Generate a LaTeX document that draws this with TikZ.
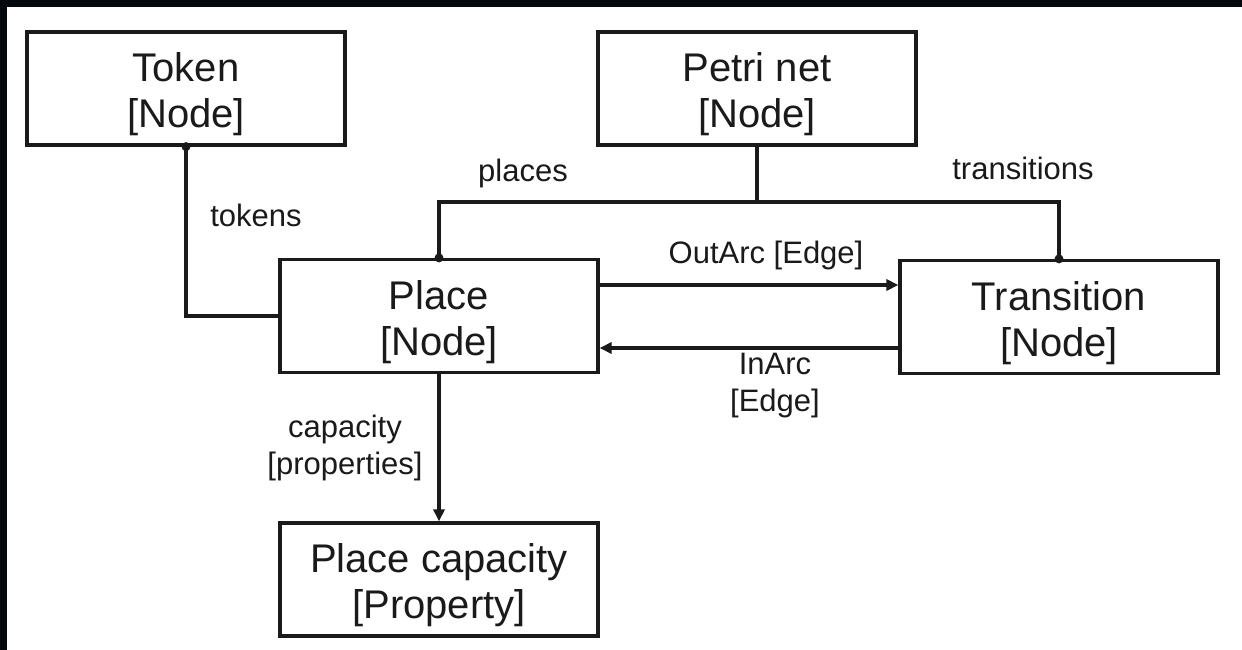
\documentclass[tikz,border=0pt]{standalone}
\usepackage{fontspec}
\setmainfont{Liberation Sans}
\usetikzlibrary{arrows.meta}
\definecolor{frame}{HTML}{05080D}
\definecolor{ink}{HTML}{1A1A1A}
% extra room above the first line of a box title
\newcommand{\headroom}{\rule{0pt}{41pt}}
\begin{document}
\begin{tikzpicture}[x=1pt,y=-1pt,
  entity/.style={draw=ink, line width=3.2pt, fill=white, rectangle,
    minimum width=318pt, minimum height=113pt, align=center,
    text=ink, font=\fontsize{40}{46}\selectfont},
  lbl/.style={align=center, text=ink, font=\fontsize{31}{37}\selectfont, inner sep=0pt},
  link/.style={draw=ink, line width=3.2pt},
  arr/.style={link, -{Triangle[length=12pt,width=11pt]}},
  knot/.style={fill=ink}]
  % page and dark frame along top and left
  \useasboundingbox (0,0) rectangle (1242,650);
  \fill[white] (0,0) rectangle (1242,650);
  \fill[frame] (0,0) rectangle (1242,7);
  \fill[frame] (0,0) rectangle (7,650);

  % entities
  \node[entity] (tok) at (186,88.5) {\headroom Token\\{}[Node]};
  \node[entity] (pn)  at (757,88.5) {\headroom Petri net\\{}[Node]};
  \node[entity] (plc) at (439,316) {\headroom Place\\{}[Node]};
  \node[entity] (tr)  at (1059,317) {\headroom Transition\\{}[Node]};
  \node[entity] (cap) at (439,579.5) {\headroom Place capacity\\{}[Property]};

  % helper coordinates for routing
  \coordinate (bus) at (757,202);
  \coordinate (outy) at (0,285);
  \coordinate (iny) at (0,348);

  % tokens
  \draw[link] (tok.south) |- (plc.west);
  \fill[knot] (tok.south) circle (4.5pt);

  % places / transitions
  \draw[link] (pn.south) -- (bus);
  \draw[link] (plc.north) |- (bus) -| (tr.north);
  \fill[knot] (plc.north) circle (4.5pt);
  \fill[knot] (tr.north) circle (4.5pt);

  % arcs
  \draw[arr] (plc.east |- outy) -- (tr.west |- outy);
  \draw[arr] (tr.west |- iny) -- (plc.east |- iny);

  % capacity
  \draw[arr] (plc.south) -- (cap.north);

  % labels
  \node[lbl] (ltok) at (256,215) {tokens};
  \node[lbl] (lpl)  at (523,173) {places};
  \node[lbl] (ltr)  at (1023,168) {transitions};
  \node[lbl] (lout) at (766,255) {OutArc [Edge]};
  \node[lbl] (lin)  at (775,386) {InArc\\{}[Edge]};
  \node[lbl] (lcap) at (345,448) {capacity\\{}[properties]};
\end{tikzpicture}
\end{document}
